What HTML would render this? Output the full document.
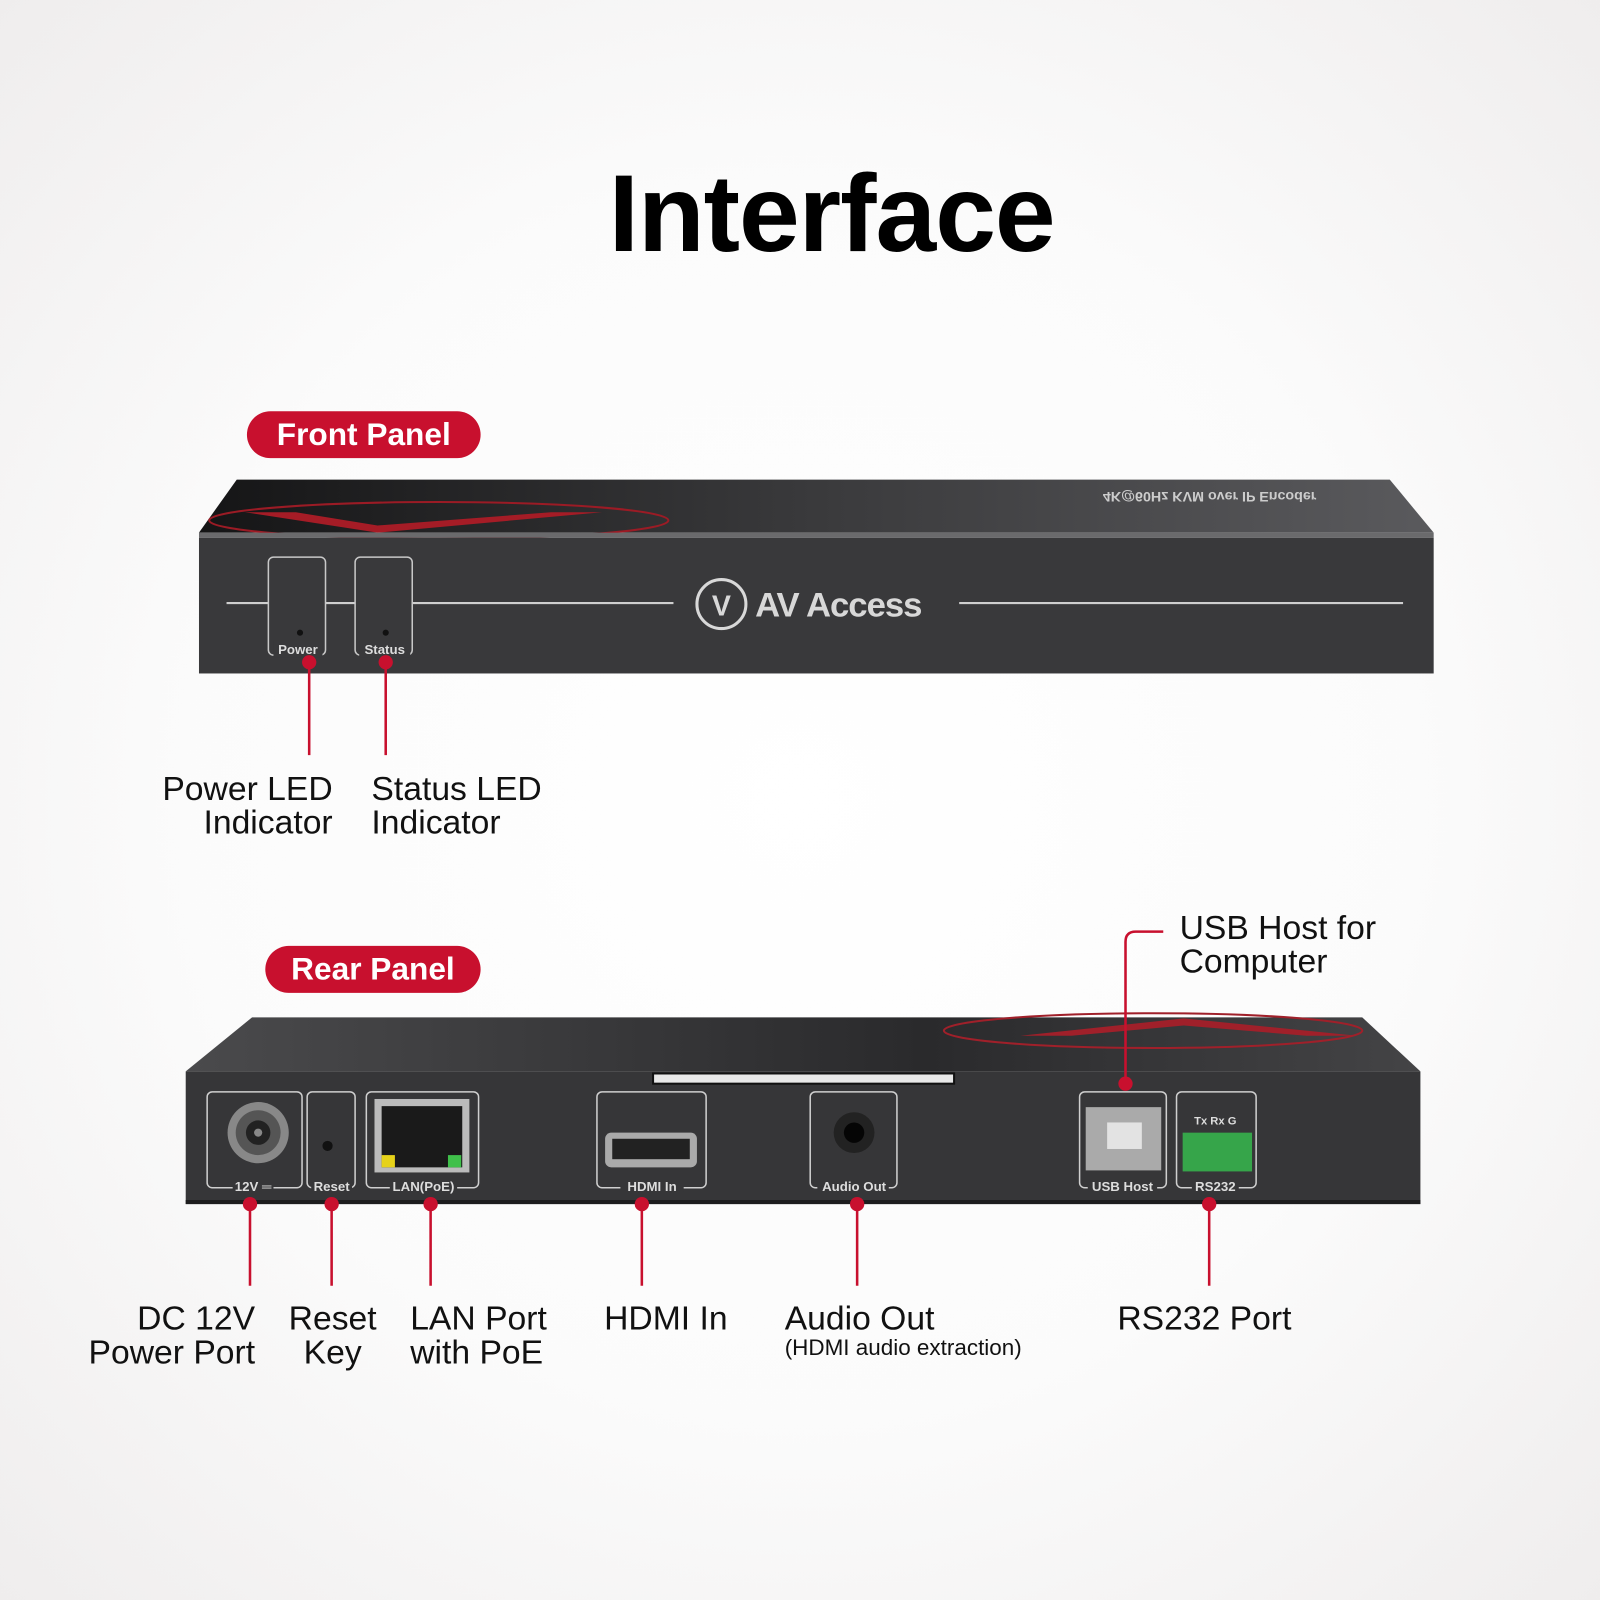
<!DOCTYPE html>
<html><head><meta charset="utf-8"><style>
html,body{margin:0;padding:0;width:1600px;height:1600px;overflow:hidden}
body{background:radial-gradient(ellipse at 50% 50%,#ffffff 0%,#fbfbfb 55%,#efeded 100%)}
#c{position:absolute;left:0;top:0;width:1568px;height:1568px;transform:scale(1.020408);transform-origin:0 0;font-family:"Liberation Sans",sans-serif}
.t{position:absolute;white-space:nowrap;color:#111}
.pill{position:absolute;background:#c8102e;color:#fff;border-radius:24px;font-weight:bold;font-size:31px;text-align:center}
.lbl{font-size:33px;line-height:33px}
</style></head><body><div id="c">
<div class="t" style="left:0;width:1630px;text-align:center;top:147px;font-size:107px;font-weight:bold;color:#000;letter-spacing:-1px">Interface</div>

<div class="pill" style="left:242px;top:403px;width:229px;height:46px;line-height:46px">Front Panel</div>
<div class="pill" style="left:260px;top:927px;width:211px;height:46px;line-height:46px">Rear Panel</div>

<svg width="1568" height="1568" style="position:absolute;left:0;top:0" font-family="Liberation Sans, sans-serif">
<defs>
<linearGradient id="top" x1="0" x2="1"><stop offset="0" stop-color="#151516"/><stop offset="0.5" stop-color="#3a3a3c"/><stop offset="1" stop-color="#5a5a5d"/></linearGradient>
<linearGradient id="top2" x1="0" x2="1"><stop offset="0" stop-color="#4a4a4c"/><stop offset="0.6" stop-color="#2a2a2c"/><stop offset="1" stop-color="#444446"/></linearGradient>
</defs>
<polygon points="232,470 1362,470 1405,522 195,522" fill="url(#top)"/>
<polygon points="240,502 370,522 590,502 540,502 370,515 290,502" fill="#a51c26"/>
<ellipse cx="430" cy="510" rx="225" ry="18" fill="none" stroke="#9b1b25" stroke-width="2"/>
<text x="1290" y="484" font-size="14" font-weight="bold" fill="#ccc" text-anchor="end" transform="scale(1,-1) translate(0,-966)">4K@60Hz KVM over IP Encoder</text>
<rect x="195" y="522" width="1210" height="5" fill="#6a6a6c"/>
<rect x="195" y="527" width="1210" height="133" fill="#39393b"/>
<line x1="222" y1="591" x2="660" y2="591" stroke="#cfcfcf" stroke-width="2"/>
<line x1="940" y1="591" x2="1375" y2="591" stroke="#cfcfcf" stroke-width="2"/>
<rect x="263" y="546" width="56" height="96" rx="5" fill="#39393b" stroke="#c8c8c8" stroke-width="1.5"/>
<rect x="348" y="546" width="56" height="96" rx="5" fill="#39393b" stroke="#c8c8c8" stroke-width="1.5"/>
<circle cx="294" cy="620" r="3" fill="#111"/><circle cx="378" cy="620" r="3" fill="#111"/>
<rect x="268" y="628" width="48" height="16" fill="#39393b"/><rect x="352" y="628" width="50" height="16" fill="#39393b"/>
<text x="292" y="641" font-size="13" font-weight="bold" fill="#ddd" text-anchor="middle">Power</text>
<text x="377" y="641" font-size="13" font-weight="bold" fill="#ddd" text-anchor="middle">Status</text>
<circle cx="707" cy="592" r="24" fill="none" stroke="#d8d8d8" stroke-width="3"/>
<text x="707" y="603" font-size="28" font-weight="bold" fill="#d8d8d8" text-anchor="middle">V</text>
<text x="740" y="604" font-size="34" font-weight="bold" fill="#d8d8d8" letter-spacing="-1">AV Access</text>
<g stroke="#c8102e" stroke-width="2.5"><line x1="303" y1="649" x2="303" y2="740"/><line x1="378" y1="649" x2="378" y2="740"/></g>
<circle cx="303" cy="649" r="7" fill="#c8102e"/><circle cx="378" cy="649" r="7" fill="#c8102e"/>

<polygon points="247,997 1335,997 1392,1050 182,1050" fill="url(#top2)"/>
<ellipse cx="1130" cy="1010" rx="205" ry="17" fill="none" stroke="#a0202a" stroke-width="2"/>
<polygon points="1000,1015 1160,998 1330,1015 1280,1015 1160,1005 1050,1015" fill="#a0202a"/>
<rect x="182" y="1050" width="1210" height="130" fill="#363638"/>
<rect x="182" y="1176" width="1210" height="4" fill="#1d1d1e"/>
<rect x="640" y="1052" width="295" height="10" fill="#e8e8e8" stroke="#111" stroke-width="2"/>
<g fill="none" stroke="#cfcfcf" stroke-width="1.5">
<rect x="203" y="1070" width="93" height="94" rx="5"/>
<rect x="301" y="1070" width="47" height="94" rx="5"/>
<rect x="359" y="1070" width="110" height="94" rx="5"/>
<rect x="585" y="1070" width="107" height="94" rx="5"/>
<rect x="794" y="1070" width="85" height="94" rx="5"/>
<rect x="1058" y="1070" width="85" height="94" rx="5"/>
<rect x="1153" y="1070" width="78" height="94" rx="5"/>
</g>
<g fill="#363638">
<rect x="228" y="1154" width="40" height="14"/><rect x="305" y="1154" width="40" height="14"/><rect x="382" y="1154" width="66" height="14"/>
<rect x="608" y="1154" width="62" height="14"/><rect x="801" y="1154" width="70" height="14"/><rect x="1066" y="1154" width="68" height="14"/><rect x="1168" y="1154" width="46" height="14"/>
</g>
<g font-size="13" font-weight="bold" fill="#ddd" text-anchor="middle">
<text x="248" y="1167">12V ═</text><text x="325" y="1167">Reset</text><text x="415" y="1167">LAN(PoE)</text>
<text x="639" y="1167">HDMI In</text><text x="837" y="1167">Audio Out</text><text x="1100" y="1167">USB Host</text><text x="1191" y="1167">RS232</text>
<text x="1191" y="1102" font-size="11">Tx  Rx  G</text>
</g>
<circle cx="253" cy="1110" r="30" fill="#888"/><circle cx="253" cy="1110" r="22" fill="#555"/><circle cx="253" cy="1110" r="12" fill="#222"/><circle cx="253" cy="1110" r="4" fill="#888"/>
<circle cx="321" cy="1123" r="5" fill="#111"/>
<rect x="367" y="1077" width="93" height="72" fill="#bbb"/><rect x="374" y="1084" width="79" height="60" fill="#1a1a1a"/>
<rect x="374" y="1132" width="13" height="12" fill="#e6d21a"/><rect x="439" y="1132" width="13" height="12" fill="#3fc04a"/>
<rect x="593" y="1110" width="90" height="34" rx="6" fill="#aaa"/><rect x="600" y="1116" width="76" height="20" fill="#222"/>
<circle cx="837" cy="1110" r="20" fill="#222"/><circle cx="837" cy="1110" r="10" fill="#050505"/>
<rect x="1064" y="1085" width="74" height="62" fill="#aaa"/><rect x="1085" y="1100" width="34" height="26" fill="#e3e3e3"/>
<rect x="1159" y="1110" width="68" height="38" fill="#36a54a"/>
<g stroke="#c8102e" stroke-width="2.5" fill="none">
<line x1="245" y1="1180" x2="245" y2="1260"/><line x1="325" y1="1180" x2="325" y2="1260"/><line x1="422" y1="1180" x2="422" y2="1260"/>
<line x1="629" y1="1180" x2="629" y2="1260"/><line x1="840" y1="1180" x2="840" y2="1260"/><line x1="1185" y1="1180" x2="1185" y2="1260"/>
<path d="M1103 1062 V923 Q1103 913 1113 913 H1140"/>
</g>
<g fill="#c8102e"><circle cx="245" cy="1180" r="7"/><circle cx="325" cy="1180" r="7"/><circle cx="422" cy="1180" r="7"/><circle cx="629" cy="1180" r="7"/><circle cx="840" cy="1180" r="7"/><circle cx="1185" cy="1180" r="7"/><circle cx="1103" cy="1062" r="7"/></g>
</svg>

<div class="t lbl" style="left:0;width:326px;text-align:right;top:756px">Power LED<br>Indicator</div>
<div class="t lbl" style="left:364px;top:756px">Status LED<br>Indicator</div>
<div class="t lbl" style="left:1156px;top:892px">USB Host for<br>Computer</div>
<div class="t lbl" style="left:0;width:250px;text-align:right;top:1275px">DC 12V<br>Power Port</div>
<div class="t lbl" style="left:276px;width:100px;text-align:center;top:1275px">Reset<br>Key</div>
<div class="t lbl" style="left:402px;top:1275px">LAN Port<br>with PoE</div>
<div class="t lbl" style="left:592px;top:1275px">HDMI In</div>
<div class="t lbl" style="left:769px;top:1275px">Audio Out</div>
<div class="t" style="left:769px;top:1308px;font-size:22px">(HDMI audio extraction)</div>
<div class="t lbl" style="left:1095px;top:1275px">RS232 Port</div>
</div></body></html>
